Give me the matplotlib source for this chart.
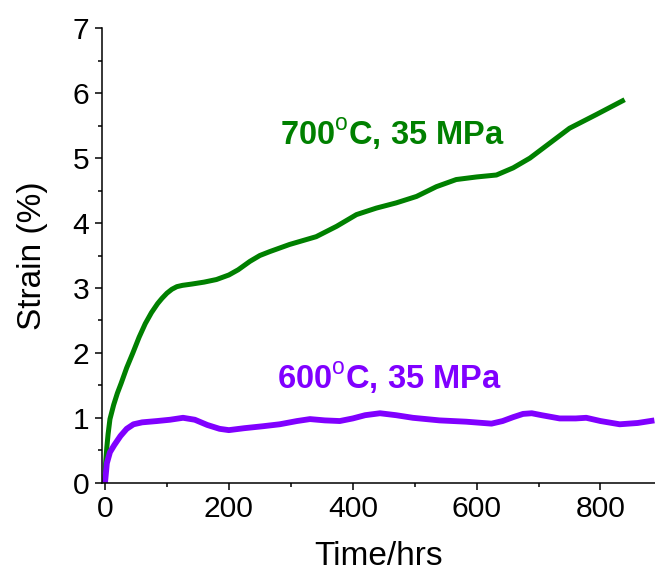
import matplotlib
matplotlib.use("Agg")
import matplotlib.pyplot as plt
from matplotlib.ticker import MultipleLocator

plt.rcParams['font.family'] = ['Liberation Sans', 'DejaVu Sans']
plt.rcParams['mathtext.fontset'] = 'custom'
plt.rcParams['mathtext.rm'] = 'Liberation Sans'
plt.rcParams['mathtext.bf'] = 'Liberation Sans:bold'

# 700 C, 35 MPa
t700 = [0, 1, 3, 5, 8, 14, 20, 26, 35, 45, 55, 65, 75, 85, 92, 100, 108, 116,
        125, 140, 160, 180, 200, 215, 234, 250, 266, 298, 341, 374, 406, 438,
        470, 503, 535, 567, 600, 632, 659, 686, 718, 750, 793, 839]
s700 = [0, 0.3, 0.55, 0.75, 0.98, 1.2, 1.38, 1.53, 1.77, 2.0, 2.24, 2.45, 2.62,
        2.76, 2.84, 2.92, 2.98, 3.02, 3.04, 3.06, 3.09, 3.13, 3.2, 3.28, 3.41,
        3.5, 3.56, 3.67, 3.79, 3.95, 4.13, 4.23, 4.31, 4.41, 4.56, 4.67, 4.71,
        4.74, 4.85, 5.0, 5.23, 5.46, 5.67, 5.9]

# 600 C, 35 MPa
t600 = [0, 3, 8, 15, 25, 35, 46, 60, 84, 105, 126, 145, 165, 185, 200, 225,
        255, 282, 310, 331, 355, 379, 400, 420, 444, 470, 497, 540, 583, 624,
        642, 659, 675, 689, 705, 734, 760, 777, 800, 831, 860, 887]
s600 = [0, 0.3, 0.47, 0.58, 0.72, 0.83, 0.9, 0.93, 0.95, 0.97, 1.0, 0.97, 0.89,
        0.83, 0.81, 0.84, 0.87, 0.9, 0.95, 0.98, 0.96, 0.95, 0.99, 1.04, 1.07,
        1.04, 1.0, 0.96, 0.94, 0.91, 0.95, 1.01, 1.06, 1.07, 1.04, 0.99, 0.99,
        1.0, 0.95, 0.9, 0.92, 0.96]

xticks = [0, 200, 400, 600, 800]
yticks = [0, 1, 2, 3, 4, 5, 6, 7]

fig = plt.figure(figsize=(6.55, 5.75), dpi=100)
ax = fig.add_axes([0.1553, 0.1605, 0.8447, 0.7903])

green = '#008000'
purple = '#8000ff'
ax.plot(t700, s700, color=green, lw=3.6, solid_joinstyle='round', solid_capstyle='butt')
ax.plot(t600, s600, color=purple, lw=4.2, solid_joinstyle='round', solid_capstyle='butt')

ax.set_xlim(-5.3, 888)
ax.set_ylim(0, 7)
ax.set_xticks(xticks)
ax.set_yticks(yticks)
ax.xaxis.set_minor_locator(MultipleLocator(100))
ax.yaxis.set_minor_locator(MultipleLocator(0.5))
ax.tick_params(which='major', direction='out', length=5.3, width=1.1, labelsize=21.6, pad=3.5)
ax.tick_params(which='minor', direction='out', length=3, width=1.1)
ax.spines['top'].set_visible(False)
ax.spines['right'].set_visible(False)
for sp in ('left', 'bottom'):
    ax.spines[sp].set_linewidth(1.1)

ax.set_xlabel('Time/hrs', fontsize=24, labelpad=13)
ax.set_ylabel('Strain (%)', fontsize=24, labelpad=18)

ax.annotate(r'700$^{\mathrm{o}}$C, 35 MPa', xy=(280 / 655, 1 - 144.5 / 575),
            xycoords='figure fraction', color=green, fontsize=23.5, fontweight='bold',
            ha='left', va='baseline')
ax.annotate(r'600$^{\mathrm{o}}$C, 35 MPa', xy=(277 / 655, 1 - 389 / 575),
            xycoords='figure fraction', color=purple, fontsize=23.5, fontweight='bold',
            ha='left', va='baseline')

fig.savefig('out.png', dpi=100)
